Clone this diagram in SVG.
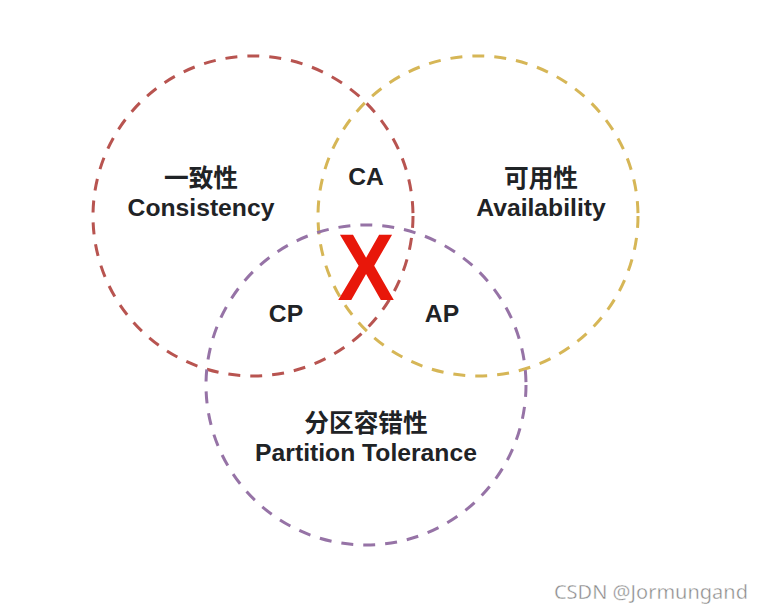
<svg xmlns="http://www.w3.org/2000/svg" width="761" height="612" viewBox="0 0 761 612">
<style>
.c{fill:none;stroke-width:3;stroke-dasharray:12 10}
.t{font-family:"Liberation Sans","Noto Sans CJK SC",sans-serif;font-weight:bold;font-size:24.7px;fill:#1f2326;text-anchor:middle}
</style>
<rect width="761" height="612" fill="#fff"/>
<g id="connectors"></g>
<g id="consistency">
<circle class="c" cx="253" cy="216" r="160" stroke="#b85450"/>
<text class="t" x="201" y="187">一致性</text>
<text class="t" x="201" y="216">Consistency</text>
</g>
<g id="availability">
<circle class="c" cx="478" cy="216" r="160" stroke="#d6b656"/>
<text class="t" x="541" y="187">可用性</text>
<text class="t" x="541" y="216">Availability</text>
</g>
<g id="partition">
<circle class="c" cx="366" cy="385" r="160" stroke="#9673a6"/>
<text class="t" x="366" y="432">分区容错性</text>
<text class="t" x="366" y="461">Partition Tolerance</text>
</g>
<g id="ca"><text class="t" x="366" y="185">CA</text></g>
<g id="cp"><text class="t" x="286" y="322">CP</text></g>
<g id="ap"><text class="t" x="442" y="322">AP</text></g>
<g id="x"><text x="0" y="0" transform="translate(366 300) scale(0.9 1)" text-anchor="middle" font-family="Liberation Sans,sans-serif" font-weight="bold" font-size="95" fill="#e8170a">X</text></g>
<g id="watermark"><text x="748" y="599" text-anchor="end" font-family="Noto Sans,sans-serif" font-size="20" fill="#8a8a8a" stroke="#fff" stroke-width="0.4">CSDN @Jormungand</text></g>
</svg>
